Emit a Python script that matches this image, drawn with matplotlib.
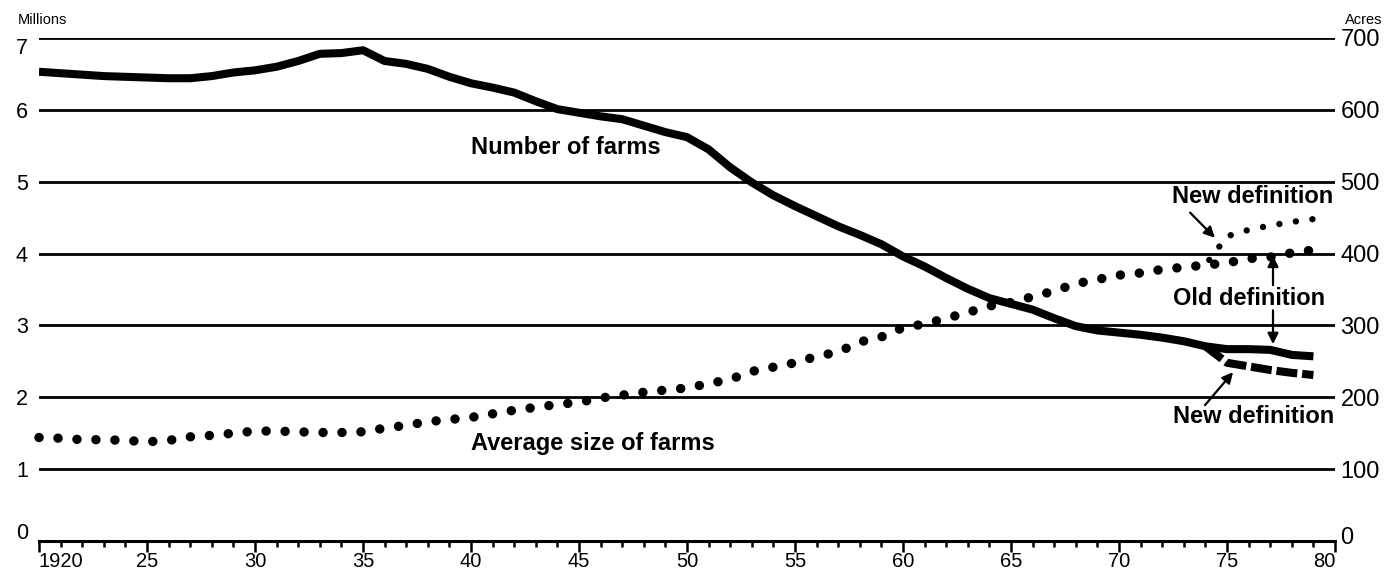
import numpy as np
import matplotlib
matplotlib.use("Agg")
import matplotlib.pyplot as plt
import matplotlib.transforms as mtransforms

plt.rcParams['font.family'] = ['Liberation Sans', 'DejaVu Sans']

# --- data ---
years = np.arange(1920, 1980)

# number of farms, millions (old definition)
farms_millions = [
    6.53, 6.51, 6.49, 6.47, 6.46, 6.45, 6.44, 6.44, 6.47, 6.52,
    6.55, 6.60, 6.68, 6.78, 6.79, 6.83, 6.68, 6.64, 6.57, 6.46,
    6.37, 6.31, 6.24, 6.12, 6.01, 5.96, 5.91, 5.87, 5.78, 5.69,
    5.62, 5.45, 5.20, 4.99, 4.81, 4.66, 4.52, 4.38, 4.26, 4.13,
    3.96, 3.82, 3.66, 3.51, 3.38, 3.30, 3.22, 3.10, 2.99, 2.93,
    2.90, 2.87, 2.83, 2.78, 2.71, 2.67, 2.67, 2.66, 2.59, 2.57,
]

# average size of farms, acres (old definition)
avg_size_acres = [
    144, 143, 141, 141, 140, 138, 140, 145, 147, 150,
    153, 153, 152, 151, 151, 152, 157, 161, 166, 169,
    172, 177, 182, 186, 190, 193, 199, 203, 207, 210,
    213, 219, 225, 236, 242, 248, 257, 263, 277, 284,
    297, 302, 310, 318, 327, 332, 340, 348, 358, 364,
    370, 373, 378, 381, 384, 387, 393, 395, 401, 405,
]

# new definition branches
new_def_years = [1974, 1975, 1976, 1977, 1978, 1979]
farms_new_def = [2.71, 2.48, 2.43, 2.38, 2.34, 2.31]
size_new_def = [384, 424, 433, 439, 444, 448]

x_major = list(range(1920, 1981, 5))
x_labels = ['1920', '25', '30', '35', '40', '45', '50', '55', '60', '65', '70', '75', '80']
left_ticks = list(range(0, 8))
right_ticks = list(range(0, 701, 100))

# --- figure ---
fig = plt.figure(figsize=(13.85, 5.8), dpi=100)
ax = fig.add_axes([39 / 1385, 39 / 580, 1296 / 1385, 503 / 580])
ax2 = ax.twinx()

ax.set_xlim(1920, 1980)
ax.set_ylim(0, 7)
ax2.set_ylim(0, 700)

for a in (ax, ax2):
    for side in ('top', 'left', 'right'):
        a.spines[side].set_visible(False)
ax2.spines['bottom'].set_visible(False)
ax.spines['bottom'].set_linewidth(2.2)

# gridlines
ax.set_yticks(left_ticks)
ax.set_yticklabels([str(v) for v in left_ticks])
ax.grid(axis='y', color='black', linewidth=2.0)
ax.set_axisbelow(True)
ax.tick_params(axis='y', length=0, pad=8, labelsize=15.5)

ax2.set_yticks(right_ticks)
ax2.set_yticklabels([str(v) for v in right_ticks])
ax2.tick_params(axis='y', length=0, pad=4, labelsize=17)

ax.set_xticks(x_major)
ax.set_xticklabels(x_labels)
ax.set_xticks(list(range(1920, 1981)), minor=True)
ax.tick_params(axis='x', which='major', length=8, width=1.8, direction='out',
               pad=0, labelsize=14.5)
ax.tick_params(axis='x', which='minor', length=4.5, width=1.8, direction='out')
xl = ax.get_xticklabels()
xl[0].set_horizontalalignment('left')
xl[-1].set_horizontalalignment('right')

# nudge the end labels like the print
def nudge(label, dy_px):
    label.set_transform(label.get_transform() +
                        mtransforms.ScaledTranslation(0, dy_px / 100, fig.dpi_scale_trans))

yl = ax.get_yticklabels()
nudge(yl[0], 10)
nudge(yl[-1], -8)
nudge(ax2.get_yticklabels()[0], 6)

# --- series ---
lw = 5.8
ax.plot(years, farms_millions, color='black', lw=lw,
        solid_capstyle='butt', solid_joinstyle='round', zorder=3)
ax.plot(new_def_years, farms_new_def, color='black', lw=lw,
        linestyle=(0, (2.6, 0.6)), dash_capstyle='butt', zorder=3)

# dotted lines drawn as round-capped near-zero dashes
ax2.plot(years, avg_size_acres, color='black', lw=6.8,
         linestyle=(0, (0.01, 2.0)), dash_capstyle='round', clip_on=False)
ax2.plot(new_def_years, size_new_def, color='black', lw=4.6,
         linestyle=(1.6, (0.01, 2.6)), dash_capstyle='round', clip_on=False)

# --- labels ---
bold = dict(fontsize=17, fontweight='bold', color='black')
ax.text(1940.0, 5.47, 'Number of farms', ha='left', va='center', **bold)
ax.text(1940.0, 1.36, 'Average size of farms', ha='left', va='center', **bold)
ax.text(1976.2, 4.79, 'New definition', ha='center', va='center', **bold)
ax.text(1976.0, 3.38, 'Old definition', ha='center', va='center', **bold)
ax.text(1976.25, 1.73, 'New definition', ha='center', va='center', **bold)

arrow = dict(arrowstyle='-|>', color='black', lw=1.6, mutation_scale=16,
             shrinkA=0, shrinkB=0)
ax.annotate('', xy=(1974.44, 4.22), xytext=(1973.29, 4.57), arrowprops=arrow)
ax.annotate('', xy=(1977.13, 3.97), xytext=(1977.13, 3.56), arrowprops=arrow)
ax.annotate('', xy=(1977.13, 2.74), xytext=(1977.13, 3.21), arrowprops=arrow)
ax.annotate('', xy=(1975.28, 2.35), xytext=(1973.98, 1.89), arrowprops=arrow)

fig.text(18 / 1385, 1 - 20 / 580, 'Millions', fontsize=10.5, ha='left', va='center')
fig.text(1382 / 1385, 1 - 20 / 580, 'Acres', fontsize=10.5, ha='right', va='center')

fig.savefig('out.png', dpi=100)
